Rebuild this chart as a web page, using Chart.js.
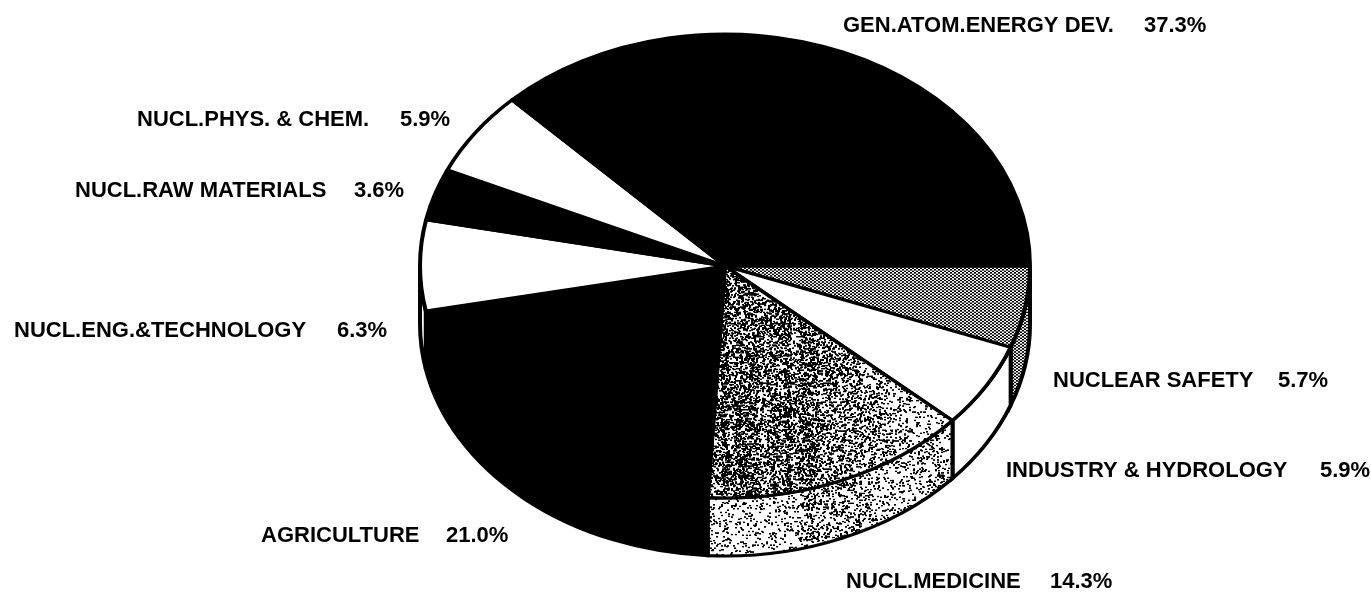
<!DOCTYPE html>
<html>
<head>
<meta charset="utf-8">
<title>Pie</title>
<script src="https://cdn.jsdelivr.net/npm/chart.js@4"></script>
<style>
  html, body { margin: 0; padding: 0; background: #fff; }
  canvas { display: block; }
</style>
</head>
<body>
<canvas id="pie" width="1371" height="592"></canvas>
<script>
var categories = ["NUCLEAR SAFETY", "INDUSTRY & HYDROLOGY", "NUCL.MEDICINE", "AGRICULTURE",
  "NUCL.ENG.&TECHNOLOGY", "NUCL.RAW MATERIALS", "NUCL.PHYS. & CHEM.", "GEN.ATOM.ENERGY DEV."];
var shares = [5.7, 5.9, 14.3, 21.0, 6.3, 3.6, 5.9, 37.3];

// page layout of the labels: name x, percent x, baseline
var labelX = [1053, 1006, 846, 261, 14, 75, 137, 843];
var percentX = [1278, 1320, 1050, 446, 337, 354, 400, 1144];
var labelY = [387, 477, 588, 542, 337, 197, 126, 32];

var centerX = 725, centerY = 266;
var radiusX = 305, radiusY = 232;
var rimDepth = 58;
var squash = radiusY / radiusX;

// fixed speckle, hash based so that it comes out the same every time
function hash(x, y) {
  var s = Math.sin(x * 12.9898 + y * 78.233) * 43758.5453;
  return s - Math.floor(s);
}

function speckle(density) {
  var c = document.createElement('canvas');
  c.width = 1371; c.height = 800;
  var g = c.getContext('2d');
  g.fillStyle = '#fff';
  g.fillRect(0, 0, c.width, c.height);
  g.fillStyle = '#000';
  for (var y = 0; y < c.height; y++) {
    for (var x = 650; x < 1000; x++) {
      var band = 0.8 + 0.4 * hash(Math.floor(x / 7), 3);
      var cover = Math.min(0.95, density(x) * band);
      // 2px dots overlap, so turn coverage into a per pixel chance
      if (hash(x, y) < 1 - Math.pow(1 - cover, 0.25)) g.fillRect(x, y, 2, 2);
    }
  }
  return g.createPattern(c, 'repeat');
}

function checker() {
  var c = document.createElement('canvas');
  c.width = 4; c.height = 4;
  var g = c.getContext('2d');
  g.fillStyle = '#fff';
  g.fillRect(0, 0, 4, 4);
  g.fillStyle = '#000';
  g.fillRect(0, 0, 2, 2);
  g.fillRect(2, 2, 2, 2);
  return g.createPattern(c, 'repeat');
}

var safetyFill = checker();
var medicineTop = speckle(function (x) {
  if (x < 810) return 0.6;
  if (x < 870) return 0.6 - (x - 810) * 0.004;
  return Math.max(0.14, 0.36 - (x - 870) * 0.003);
});
var medicineRim = speckle(function (x) {
  return x > 800 && x < 870 ? 0.36 : 0.22;
});

var topFills = [safetyFill, '#fff', medicineTop, '#000', '#fff', '#000', '#fff', '#000'];
var rimFills = [safetyFill, '#fff', medicineRim, '#000', '#fff', '#000', '#fff', '#000'];

var pieFrame = {
  id: 'pieFrame',
  beforeDatasetsDraw: function (chart) {
    var ctx = chart.ctx;
    var arcs = chart.getDatasetMeta(0).data;
    ctx.save();
    ctx.translate(arcs[0].x, arcs[0].y);
    ctx.scale(1, squash);
    ctx.translate(-arcs[0].x, -arcs[0].y);
    // side wall, only the part that faces front
    arcs.forEach(function (arc, i) {
      var p = arc.getProps(['x', 'y', 'startAngle', 'endAngle', 'outerRadius'], true);
      var a0 = Math.max(p.startAngle, 0);
      var a1 = Math.min(p.endAngle, Math.PI);
      if (a1 <= a0) return;
      var drop = rimDepth / squash;
      ctx.beginPath();
      ctx.arc(p.x, p.y, p.outerRadius, a0, a1);
      ctx.arc(p.x, p.y + drop, p.outerRadius, a1, a0, true);
      ctx.closePath();
      ctx.fillStyle = rimFills[i];
      ctx.fill();
      ctx.lineWidth = 4;
      ctx.strokeStyle = '#000';
      ctx.stroke();
    });
  },
  afterDatasetsDraw: function (chart) {
    var ctx = chart.ctx;
    ctx.restore();
    ctx.save();
    ctx.fillStyle = '#000';
    ctx.font = 'bold 22px "Liberation Sans", Arial, sans-serif';
    ctx.textBaseline = 'alphabetic';
    categories.forEach(function (name, i) {
      ctx.fillText(name, labelX[i], labelY[i]);
      ctx.fillText(shares[i].toFixed(1) + '%', percentX[i], labelY[i]);
    });
    ctx.restore();
  }
};

new Chart(document.getElementById('pie').getContext('2d'), {
  type: 'pie',
  data: {
    labels: categories,
    datasets: [{
      data: shares,
      backgroundColor: topFills,
      borderColor: '#000',
      borderWidth: 4,
      borderAlign: 'center',
      clip: false
    }]
  },
  options: {
    responsive: false,
    animation: false,
    rotation: 90,
    radius: radiusX,
    layout: { padding: { left: 2 * centerX - 1371, bottom: 592 - 2 * centerY } },
    plugins: { legend: { display: false }, tooltip: { enabled: false } }
  },
  plugins: [pieFrame]
});
</script>
</body>
</html>
